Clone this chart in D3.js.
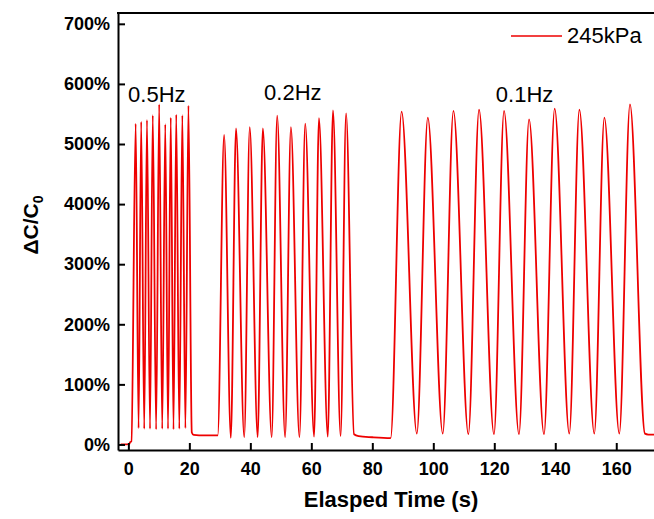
<!DOCTYPE html>
<html>
<head>
<meta charset="utf-8">
<script src="https://cdn.jsdelivr.net/npm/d3@7"></script>
<style>
  body { margin: 0; background: #fff; }
  svg { display: block; font-family: "Liberation Sans", Arial, sans-serif; }
</style>
</head>
<body>
<div id="chart"></div>
<script>
// trace: [time (s), dC/C0 (%)]
const startTrace = [[-2.5, 0], [0.3, 0.5], [0.6, 4], [1.0, 5]];
const trace05Hz = [
  [2.4, 534], [3.35, 27], [4.2, 537], [5.2, 26], [6.1, 540], [7.1, 26],
  [8.0, 548], [9.1, 25], [10.1, 566], [11.1, 26], [12.1, 533], [13.0, 26],
  [13.9, 544], [14.8, 25], [15.7, 549], [16.7, 26], [17.7, 548], [18.7, 27],
  [19.7, 564]
];
const plateau1 = [[20.8, 20], [21.4, 16], [25, 15], [29.3, 15]];
const trace02Hz = [
  [31.4, 515], [33.6, 11], [35.3, 526], [38.0, 12], [39.8, 528], [42.4, 12],
  [44.1, 526], [47.0, 12], [48.8, 547], [51.4, 12], [53.3, 528], [56.1, 12],
  [58.0, 534], [60.9, 13], [62.5, 543], [65.4, 13], [67.1, 556], [69.6, 14],
  [71.4, 551]
];
const plateau2 = [[74.0, 17], [75.5, 14], [80, 12], [86.0, 10.5]];
const trace01Hz = [
  [89.6, 554], [94.6, 18], [98.2, 544], [103.1, 18], [106.6, 555], [111.5, 17],
  [115.0, 557], [119.9, 17], [123.2, 555], [128.1, 17], [131.4, 541], [136.3, 17],
  [139.8, 559], [144.6, 18], [147.9, 557], [152.8, 18], [156.1, 544], [161.0, 18],
  [164.5, 566]
];
const endTrace = [[169.4, 18], [170.5, 16.5], [176, 16]];

const xTicks = [0, 20, 40, 60, 80, 100, 120, 140, 160];
const yTicks = [0, 100, 200, 300, 400, 500, 600, 700];
const freqLabels = [
  {text: "0.5Hz", t: -0.1, v: 570},
  {text: "0.2Hz", t: 44.5, v: 573},
  {text: "0.1Hz", t: 120.5, v: 570}
];
const seriesName = "245kPa";

const width = 654, height = 519;
const plot = {left: 118, top: 13, bottom: 450, right: 662};
const red = "#ee0000";

const data = [].concat(startTrace, trace05Hz, plateau1, trace02Hz, plateau2, trace01Hz, endTrace);

const x = d3.scaleLinear().domain([-3.4, 175]).range([plot.left, plot.right]);
const y = d3.scaleLinear().domain([-9.2, 718]).range([plot.bottom, plot.top]);

const svg = d3.select("#chart").append("svg")
    .attr("width", width)
    .attr("height", height);

svg.append("rect").attr("width", width).attr("height", height).attr("fill", "#fff");

svg.append("clipPath").attr("id", "plotClip")
  .append("rect")
    .attr("x", plot.left).attr("y", plot.top)
    .attr("width", plot.right - plot.left).attr("height", plot.bottom - plot.top);

// the signal
const line = d3.line()
    .x(d => x(d[0]))
    .y(d => y(d[1]))
    .curve(d3.curveMonotoneX);

svg.append("path")
    .datum(data)
    .attr("clip-path", "url(#plotClip)")
    .attr("fill", "none")
    .attr("stroke", red)
    .attr("stroke-width", 1.8)
    .attr("d", line);

// axes, ticks pointing inward
const xAxis = svg.append("g")
    .attr("transform", `translate(0,${plot.bottom})`)
    .call(d3.axisBottom(x).tickValues(xTicks).tickSizeInner(-7).tickSizeOuter(0).tickPadding(12));

const yAxis = svg.append("g")
    .attr("transform", `translate(${plot.left},0)`)
    .call(d3.axisLeft(y).tickValues(yTicks).tickFormat(d => d + "%").tickSizeInner(-7).tickSizeOuter(0).tickPadding(8));

[xAxis, yAxis].forEach(g => {
  g.select(".domain").attr("stroke", "#000").attr("stroke-width", 2);
  g.selectAll(".tick line").attr("stroke", "#000").attr("stroke-width", 2);
  g.selectAll(".tick text")
    .attr("fill", "#000")
    .style("font-size", "18px")
    .style("font-weight", "bold")
    .style("font-family", "'Liberation Sans', Arial, sans-serif");
});

// top frame line
svg.append("line")
    .attr("x1", plot.left - 1).attr("x2", width)
    .attr("y1", plot.top).attr("y2", plot.top)
    .attr("stroke", "#000").attr("stroke-width", 2);

// axis titles
svg.append("text")
    .attr("x", 391).attr("y", 507)
    .attr("text-anchor", "middle")
    .style("font-size", "22px")
    .style("font-weight", "bold")
    .text("Elasped Time (s)");

const yTitle = svg.append("text")
    .attr("transform", "translate(38,225) rotate(-90)")
    .attr("text-anchor", "middle")
    .style("font-size", "21px")
    .style("font-weight", "bold");
yTitle.append("tspan").text("ΔC/C");
yTitle.append("tspan").attr("dy", 5).style("font-size", "14px").text("0");

// frequency annotations
svg.selectAll(".freq")
  .data(freqLabels)
  .enter().append("text")
    .attr("class", "freq")
    .attr("x", d => x(d.t))
    .attr("y", d => y(d.v))
    .style("font-size", "22px")
    .text(d => d.text);

// legend
svg.append("line")
    .attr("x1", 511).attr("x2", 562)
    .attr("y1", 36).attr("y2", 36)
    .attr("stroke", red).attr("stroke-width", 1.5);
svg.append("text")
    .attr("x", 567).attr("y", 43)
    .style("font-size", "22px")
    .text(seriesName);
</script>
</body>
</html>
